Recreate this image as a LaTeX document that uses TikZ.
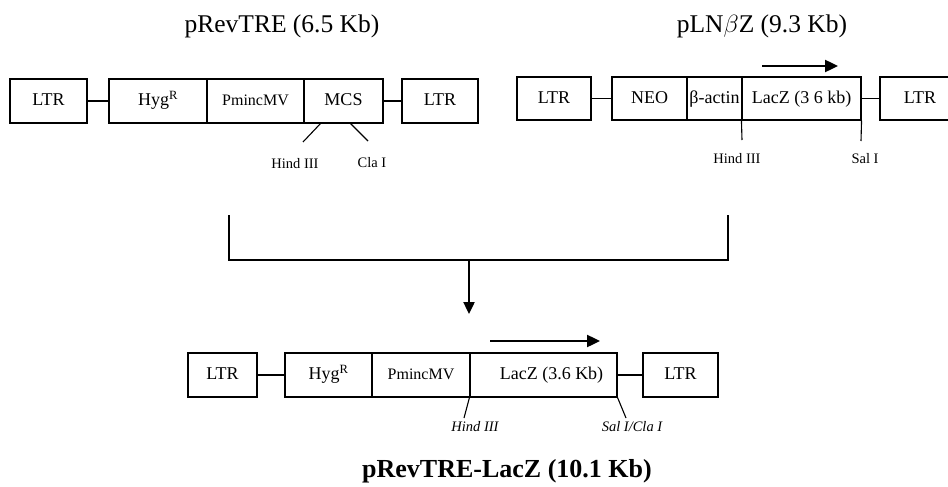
\documentclass[tikz,border=0pt]{standalone}
\usepackage{fontspec}
\setmainfont{Liberation Serif}
\usetikzlibrary{arrows.meta}
\begin{document}
\begin{tikzpicture}[x=1pt,y=-1pt,
  seg/.style={draw, line width=1.1pt, rectangle, inner sep=0pt, text height=12.5pt, text depth=3.5pt, font=\fontsize{18}{21}\selectfont},
  link/.style={line width=1.1pt},
  cut/.style={line width=1.1pt},
  site/.style={anchor=base, font=\fontsize{14.5}{17}\selectfont},
  isite/.style={anchor=base, font=\fontsize{14.5}{17}\selectfont\itshape},
  title/.style={anchor=base, font=\fontsize{25.5}{30}\selectfont},
  dirarrow/.style={line width=2.4pt, -{Triangle[length=13pt,width=12pt]}},
  bracket/.style={line width=1.3pt}]
\useasboundingbox (0,0) rectangle (948,487);

% titles
\node[title] (t1) at (282,33) {pRevTRE (6.5 Kb)};
\node[title] (t2) at (762,33) {pLN$\beta$Z (9.3 Kb)};
\node[title, font=\fontsize{26}{30}\selectfont\bfseries] (t3) at (507,477) {pRevTRE-LacZ (10.1 Kb)};

% row A: pRevTRE
\node[seg, minimum width=77, minimum height=44] (a1) at (48.5,101) {LTR};
\node[seg, minimum width=98, minimum height=44] (a2) at (158,101) {Hyg\textsuperscript{R}};
\node[seg, minimum width=97, minimum height=44, font=\fontsize{16}{18}\selectfont] (a3) at (255.5,101) {PmincMV};
\node[seg, minimum width=79, minimum height=44] (a4) at (343.5,101) {MCS};
\node[seg, minimum width=76, minimum height=44] (a5) at (440,101) {LTR};
\draw[link] (a1.east) -- (a2.west);
\draw[link] (a4.east) -- (a5.west);
\coordinate (ah0) at (321,123);
\coordinate (ah1) at (303,142);
\coordinate (ac0) at (350,123);
\coordinate (ac1) at (368,141);
\draw[cut] (ah0) -- (ah1);
\draw[cut] (ac0) -- (ac1);
\node[site] (ahl) at (295,168) {Hind III};
\node[site] (acl) at (372,167) {Cla I};

% row B: pLNbetaZ
\node[seg, minimum width=74, minimum height=43] (b1) at (554,98.5) {LTR};
\node[seg, minimum width=75, minimum height=43] (b2) at (649.5,98.5) {NEO};
\node[seg, minimum width=55, minimum height=43] (b3) at (714.5,98.5) {β-actin};
\node[seg, minimum width=119, minimum height=43] (b4) at (801.5,98.5) {LacZ (3 6 kb)};
\node[seg, minimum width=80, minimum height=43] (b5) at (920,98.5) {LTR};
\draw[link] (b1.east) -- (b2.west);
\draw[link] (b4.east) -- (b5.west);
\coordinate (bh1) at (742,140);
\coordinate (bs1) at (861,141);
\draw[cut] (b4.south west) -- (bh1);
\draw[cut] (b4.south east) -- (bs1);
\node[site] (bhl) at (737,163) {Hind III};
\node[site] (bsl) at (865,163) {Sal I};
\coordinate (ba0) at (762,66);
\coordinate (ba1) at (838,66);
\draw[dirarrow] (ba0) -- (ba1);

% bracket and arrow
\coordinate (k1) at (229,215);
\coordinate (k2) at (229,260);
\coordinate (k3) at (728,260);
\coordinate (k4) at (728,215);
\draw[bracket] (k1) -- (k2) -- (k3) -- (k4);
\coordinate (km) at (469,260);
\coordinate (ke) at (469,314);
\draw[line width=2.4pt, -{Triangle[length=12pt,width=11pt]}] (km) -- (ke);

% row C: pRevTRE-LacZ
\node[seg, minimum width=69, minimum height=44] (c1) at (222.5,375) {LTR};
\node[seg, minimum width=87, minimum height=44] (c2) at (328.5,375) {Hyg\textsuperscript{R}};
\node[seg, minimum width=98, minimum height=44, font=\fontsize{16}{18}\selectfont] (c3) at (421,375) {PmincMV};
\node[seg, minimum width=147, minimum height=44] (c4) at (543.5,375) {\hspace{16pt}LacZ (3.6 Kb)};
\node[seg, minimum width=75, minimum height=44] (c5) at (680.5,375) {LTR};
\draw[link] (c1.east) -- (c2.west);
\draw[link] (c4.east) -- (c5.west);
\coordinate (ch1) at (464,418);
\coordinate (cs1) at (626,418);
\draw[cut] (c4.south west) -- (ch1);
\draw[cut] (c4.south east) -- (cs1);
\node[isite] (chl) at (475,431) {Hind III};
\node[isite] (csl) at (632,431) {Sal I/Cla I};
\coordinate (ca0) at (490,341);
\coordinate (ca1) at (600,341);
\draw[dirarrow] (ca0) -- (ca1);
\end{tikzpicture}
\end{document}
